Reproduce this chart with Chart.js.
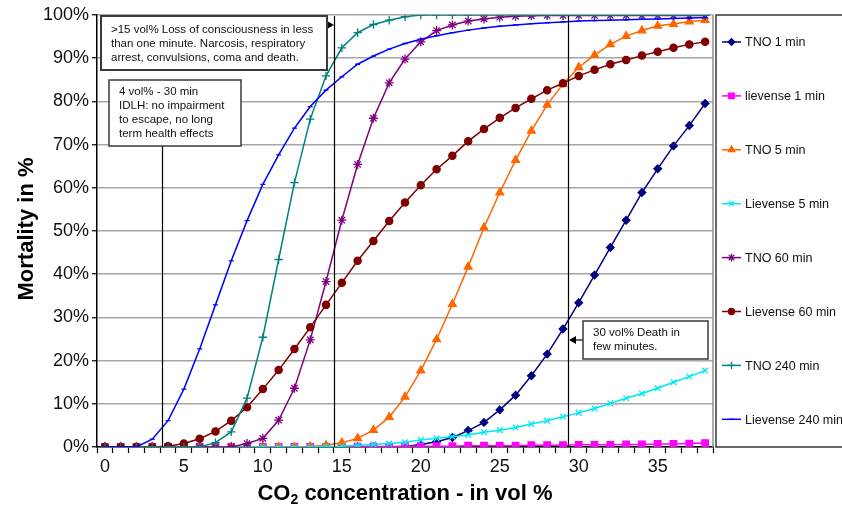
<!DOCTYPE html>
<html>
<head>
<meta charset="utf-8">
<script src="https://cdn.jsdelivr.net/npm/chart.js@4/dist/chart.umd.min.js"></script>
<style>
  body { margin: 0; background: #fff; }
  #wrap { width: 842px; height: 515px; }
</style>
</head>
<body>
<div id="wrap"><canvas id="mortality" width="842" height="515"></canvas></div>
<script>
// CO2 concentration in vol %
const concentration = [0,1,2,3,4,5,6,7,8,9,10,11,12,13,14,15,16,17,18,19,20,21,22,23,24,25,26,27,28,29,30,31,32,33,34,35,36,37,38];
const xTickLabels = ["0","5","10","15","20","25","30","35"];
const yTickValues = [0,10,20,30,40,50,60,70,80,90,100];

// mortality in %
const tno1min = [0,0,0,0,0,0,0,0,0,0,0,0,0,0,0,0,0,0,0,0.1,0.6,1.2,2.2,3.8,5.7,8.6,12.0,16.5,21.5,27.3,33.4,39.8,46.2,52.5,58.9,64.4,69.7,74.4,79.5];
const lievense1min = [0,0,0,0,0,0,0,0,0,0,0,0,0,0,0,0,0.1,0.1,0.1,0.2,0.2,0.2,0.2,0.3,0.3,0.3,0.3,0.4,0.4,0.4,0.5,0.5,0.5,0.6,0.6,0.7,0.7,0.8,0.9];
const tno5min = [0,0,0,0,0,0,0,0,0,0,0,0,0,0.1,0.4,1.0,2.0,3.9,6.9,11.6,17.7,24.9,33.1,41.7,50.8,58.9,66.4,73.2,79.2,84.0,87.9,90.7,93.2,95.1,96.4,97.5,97.9,98.5,98.8];
const lievense5min = [0,0,0,0,0,0,0,0,0,0,0,0,0,0,0.1,0.2,0.4,0.6,0.8,1.1,1.6,2.0,2.4,2.8,3.4,3.9,4.5,5.3,6.1,7.0,7.9,8.9,10.1,11.3,12.4,13.6,15.0,16.3,17.7];
const tno60min = [0,0,0,0,0,0,0,0,0,0.8,2.0,6.2,13.6,24.8,38.3,52.5,65.4,76.1,84.3,89.8,93.8,96.4,97.7,98.6,99.1,99.5,99.7,99.8,99.9,99.9,99.9,99.9,99.9,99.9,99.9,99.9,99.9,99.9,99.9];
const lievense60min = [0,0,0,0,0.2,0.8,1.9,3.6,6.1,9.2,13.4,17.8,22.7,27.7,32.9,38.0,43.1,47.7,52.3,56.6,60.6,64.3,67.4,70.8,73.6,76.2,78.5,80.6,82.6,84.2,85.9,87.3,88.6,89.6,90.6,91.5,92.4,93.2,93.8];
const tno240min = [0,0,0,0,0,0,0,1.0,3.5,11.3,25.4,43.4,61.2,75.9,85.9,92.4,95.9,97.8,98.8,99.6,100,100,100,100,100,100,100,100,100,100,100,100,100,100,100,100,100,100,100];
const lievense240min = [0,0,0,1.8,6.1,13.4,22.7,32.9,43.1,52.4,60.8,67.6,73.8,78.8,82.6,85.7,88.6,90.5,92.1,93.4,94.4,95.2,95.9,96.5,97.0,97.4,97.7,98.0,98.2,98.4,98.6,98.7,98.8,98.9,99.0,99.1,99.2,99.3,99.4];

const seriesNames = ["TNO 1 min","lievense 1 min","TNO 5 min","Lievense 5 min","TNO 60 min","Lievense 60 min","TNO 240 min","Lievense 240 min"];
const seriesData = [tno1min, lievense1min, tno5min, lievense5min, tno60min, lievense60min, tno240min, lievense240min];

const styles = [
	{color: "#000080", point: "rectRot", r: 3.8},
	{color: "#ff00ff", point: "rect", r: 4.6},
	{color: "#ff6600", point: "triangle", r: 4.5},
	{color: "#00e8f0", point: "crossRot", r: 4},
	{color: "#800080", point: "star", r: 4.5},
	{color: "#800000", point: "circle", r: 3.6},
	{color: "#008080", point: "cross", r: 4.2},
	{color: "#0000ff", point: "line", r: 2.5}
];

const font = "'Liberation Sans', Arial, sans-serif";

const datasets = seriesNames.map(function(name, i) {
	return {
		label: name,
		data: seriesData[i],
		borderColor: styles[i].color,
		backgroundColor: styles[i].color,
		pointStyle: styles[i].point,
		pointRadius: styles[i].r,
		pointBorderWidth: 1.3,
		pointBorderColor: styles[i].color,
		pointBackgroundColor: styles[i].color,
		borderWidth: 1.5,
		tension: 0,
		order: 8 - i
	};
});

// text boxes drawn over the plot
const notes = [
	{box: [101, 16, 327, 70], lw: 2, tx: 111, ty: 30, lines: [">15 vol% Loss of consciousness in less", "than one minute. Narcosis, respiratory", "arrest, convulsions, coma and death."]},
	{box: [109, 80, 241, 146], lw: 1.5, tx: 119, ty: 92, lines: ["4 vol% - 30 min", "IDLH: no impairment", "to escape, no long", "term health effects"]},
	{box: [583, 321, 708, 359], lw: 1.5, tx: 593, ty: 333, lines: ["30 vol% Death in", "few minutes."]}
];
// vertical marker lines (x in vol %), starting at a pixel height
const markers = [
	{at: 3.6, from: 146},
	{at: 14.5, from: 16},
	{at: 29.3, from: 16}
];

function arrowHead(ctx, x, y, dir) {
	ctx.beginPath();
	ctx.moveTo(x, y);
	ctx.lineTo(x - dir * 7, y - 4);
	ctx.lineTo(x - dir * 7, y + 4);
	ctx.closePath();
	ctx.fill();
}

const decorations = {
	id: "decorations",
	beforeDraw(chart) {
		const ctx = chart.ctx;
		ctx.save();
		ctx.fillStyle = "#fff";
		ctx.fillRect(0, 0, chart.width, chart.height);
		ctx.restore();
	},
	afterDatasetsDraw(chart) {
		const ctx = chart.ctx;
		const area = chart.chartArea;
		const xs = chart.scales.x;
		ctx.save();
		// right border of plot
		ctx.strokeStyle = "#909090";
		ctx.lineWidth = 1.5;
		ctx.beginPath();
		ctx.moveTo(area.right, area.top);
		ctx.lineTo(area.right, area.bottom);
		ctx.stroke();

		ctx.strokeStyle = "#000";
		ctx.lineWidth = 1.2;
		markers.forEach(function(m) {
			const px = Math.round(xs.getPixelForValue(m.at)) + 0.5;
			ctx.beginPath();
			ctx.moveTo(px, m.from);
			ctx.lineTo(px, area.bottom);
			ctx.stroke();
		});

		ctx.fillStyle = "#000";
		// arrows from boxes to lines
		const l2 = Math.round(xs.getPixelForValue(markers[1].at));
		ctx.beginPath(); ctx.moveTo(327, 25); ctx.lineTo(l2 - 4, 25); ctx.stroke();
		arrowHead(ctx, l2, 25, 1);
		const l3 = Math.round(xs.getPixelForValue(markers[2].at));
		ctx.beginPath(); ctx.moveTo(583, 340); ctx.lineTo(l3 + 4, 340); ctx.stroke();
		arrowHead(ctx, l3 + 1, 340, -1);

		notes.forEach(function(n) {
			const b = n.box;
			ctx.fillStyle = "#fff";
			ctx.fillRect(b[0], b[1], b[2] - b[0], b[3] - b[1]);
			ctx.strokeStyle = "#3a3a3a";
			ctx.lineWidth = n.lw;
			ctx.strokeRect(b[0], b[1], b[2] - b[0], b[3] - b[1]);
			ctx.fillStyle = "#111";
			ctx.font = "11.5px " + font;
			ctx.textBaseline = "middle";
			ctx.textAlign = "left";
			n.lines.forEach(function(t, k) {
				ctx.fillText(t, n.tx, n.ty + k * 14);
			});
		});

		// legend
		ctx.fillStyle = "#fff";
		ctx.fillRect(716, 15, 140, 432);
		ctx.strokeStyle = "#3a3a3a";
		ctx.lineWidth = 1.5;
		ctx.strokeRect(716, 15, 140, 432);
		chart.data.datasets.forEach(function(ds, i) {
			const y = 42 + i * 53.9;
			ctx.strokeStyle = ds.borderColor;
			ctx.lineWidth = 1.5;
			ctx.beginPath();
			ctx.moveTo(722, y);
			ctx.lineTo(741, y);
			ctx.stroke();
			ctx.fillStyle = ds.backgroundColor;
			ctx.strokeStyle = ds.borderColor;
			ctx.lineWidth = 1.3;
			Chart.helpers.drawPoint(ctx, {pointStyle: ds.pointStyle, radius: ds.pointRadius * 0.85, borderWidth: 1.3, rotation: 0}, 731.5, y);
			ctx.fillStyle = "#111";
			ctx.font = "12.5px " + font;
			ctx.textBaseline = "middle";
			ctx.textAlign = "left";
			ctx.fillText(ds.label, 745, y + 1);
		});

		// axis titles
		ctx.fillStyle = "#000";
		ctx.font = "bold 22px " + font;
		ctx.textBaseline = "middle";
		ctx.save();
		ctx.translate(27, (area.top + area.bottom) / 2 - 2);
		ctx.rotate(-Math.PI / 2);
		ctx.textAlign = "center";
		ctx.fillText("Mortality in %", 0, 0);
		ctx.restore();

		const cx = (area.left + area.right) / 2;
		const parts = ["CO", "2", " concentration - in vol %"];
		ctx.font = "bold 22px " + font;
		const w0 = ctx.measureText(parts[0]).width;
		const w2 = ctx.measureText(parts[2]).width;
		ctx.font = "bold 14px " + font;
		const w1 = ctx.measureText(parts[1]).width;
		let x = cx - (w0 + w1 + w2) / 2;
		const ty = 494;
		ctx.textAlign = "left";
		ctx.font = "bold 22px " + font;
		ctx.fillText(parts[0], x, ty);
		x += w0;
		ctx.font = "bold 14px " + font;
		ctx.fillText(parts[1], x, ty + 6);
		x += w1;
		ctx.font = "bold 22px " + font;
		ctx.fillText(parts[2], x, ty);
		ctx.restore();
	}
};

const chart = new Chart(document.getElementById("mortality").getContext("2d"), {
	type: "line",
	data: {
		labels: concentration,
		datasets: datasets
	},
	options: {
		responsive: false,
		animation: false,
		devicePixelRatio: 1,
		layout: {
			padding: {left: 0, right: 129, top: 15, bottom: 0}
		},
		plugins: {
			legend: {display: false},
			tooltip: {enabled: false}
		},
		scales: {
			x: {
				type: "category",
				offset: true,
				afterFit: function(s) { s.height = 68; },
				grid: {
					offset: true,
					drawOnChartArea: false,
					drawTicks: true,
					tickLength: 6,
					tickColor: "#000",
					tickWidth: 1.2
				},
				border: {color: "#000", width: 1.5},
				ticks: {
					autoSkip: false,
					maxRotation: 0,
					padding: 3,
					color: "#111",
					font: {family: font, size: 18},
					callback: function(v, i) {
						const lab = String(concentration[i]);
						return xTickLabels.indexOf(lab) >= 0 ? lab : "";
					}
				}
			},
			y: {
				min: 0,
				max: 100,
				afterFit: function(s) { s.width = 97; },
				afterBuildTicks: function(s) {
					s.ticks = yTickValues.map(function(v) { return {value: v}; });
				},
				grid: {
					color: "#a6a6a6",
					lineWidth: 1.5,
					tickLength: 5,
					tickColor: "#000",
					tickWidth: 1.2
				},
				border: {color: "#000", width: 1.5},
				ticks: {
					padding: 3,
					color: "#111",
					font: {family: font, size: 18},
					callback: function(v) { return v + "%"; }
				}
			}
		}
	},
	plugins: [decorations]
});
</script>
</body>
</html>
